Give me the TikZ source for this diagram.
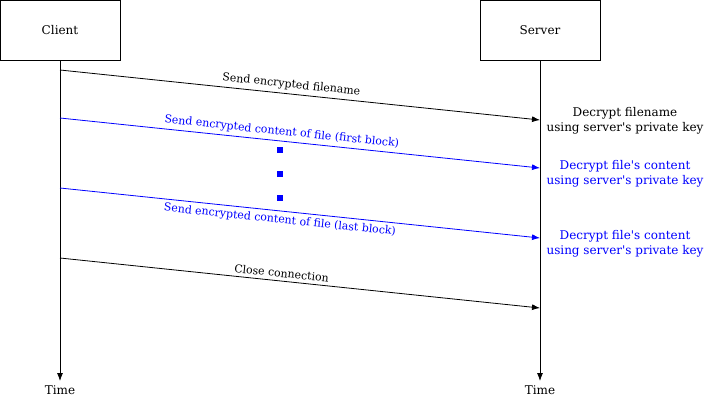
\documentclass[tikz,border=0pt]{standalone}
\usepackage{fontspec}
\setmainfont{DejaVu Serif}
\usetikzlibrary{arrows.meta}
\definecolor{myblue}{RGB}{0,0,255}
\begin{document}
\begin{tikzpicture}[x=0.75pt,y=-0.75pt,
  actor/.style={draw,minimum width=90pt,minimum height=45pt,inner sep=0pt,font=\fontsize{9}{11}\selectfont},
  msg/.style={-{Latex[length=6pt,width=4.5pt]},line width=0.6pt},
  lbl/.style={font=\fontsize{8.2}{10}\selectfont,sloped,midway,inner sep=2.5pt},
  note/.style={align=center,font=\fontsize{9}{11.2}\selectfont,inner sep=0pt},
  life/.style={-{Latex[length=6pt,width=4.5pt]},line width=0.6pt},
  dot/.style={fill=myblue,minimum size=4.5pt,inner sep=0pt}]
\useasboundingbox (0,0) rectangle (711,401);
\node[actor] (client) at (60,30) {Client};
\node[actor] (server) at (540,30) {Server};
\coordinate (cend) at (60,381);
\coordinate (send) at (540,381);
\draw[life] (client.south) -- (cend);
\draw[life] (server.south) -- (send);
\node[font=\fontsize{9}{11}\selectfont] (ctime) at (60,390) {Time};
\node[font=\fontsize{9}{11}\selectfont] (stime) at (540,390) {Time};
\coordinate (a1) at (60,70); \coordinate (b1) at (540,120);
\coordinate (a2) at (60,118); \coordinate (b2) at (540,168);
\coordinate (a3) at (60,188); \coordinate (b3) at (540,238);
\coordinate (a4) at (60,258); \coordinate (b4) at (540,308);
\draw[msg] (a1) -- node[lbl,above,pos=0.48] (l1) {Send encrypted filename} (b1);
\draw[msg,myblue] (a2) -- node[lbl,above,pos=0.46,text=myblue] (l2) {Send encrypted content of file (first block)} (b2);
\draw[msg,myblue] (a3) -- node[lbl,below,pos=0.46,text=myblue] (l3) {Send encrypted content of file (last block)} (b3);
\draw[msg] (a4) -- node[lbl,above,pos=0.46] (l4) {Close connection} (b4);
\node[dot] (d1) at (280,150) {};
\node[dot] (d2) at (280,174) {};
\node[dot] (d3) at (280,198) {};
\node[note] (n1) at (625,121) {Decrypt filename\\using server\textquotesingle s private key};
\node[note,text=myblue] (n2) at (625,174) {Decrypt file\textquotesingle s content\\using server\textquotesingle s private key};
\node[note,text=myblue] (n3) at (625,244) {Decrypt file\textquotesingle s content\\using server\textquotesingle s private key};
\end{tikzpicture}
\end{document}
